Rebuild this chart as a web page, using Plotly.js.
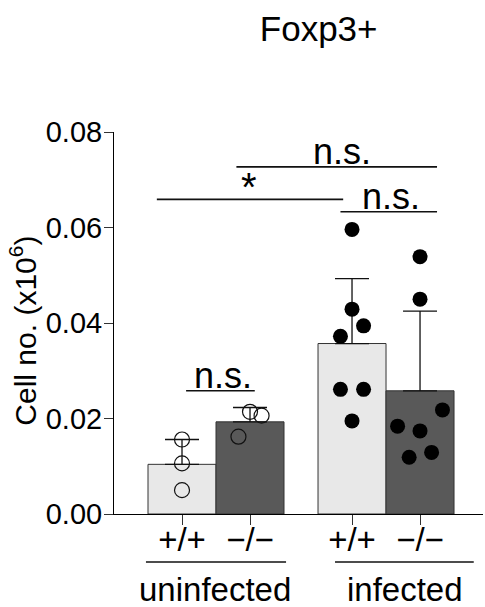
<!DOCTYPE html>
<html>
<head>
<meta charset="utf-8">
<script src="https://cdn.plot.ly/plotly-3.0.1.min.js"></script>
<style>html,body{margin:0;padding:0;background:#fff;}#chart{width:485px;height:607px;}</style>
</head>
<body>
<div id="chart"></div>
<script>
// ---- data ----
const categories = ['+/+', '\u2212/\u2212', '+/+', '\u2212/\u2212'];
const groups = ['uninfected', 'infected'];
const means = [0.0104, 0.0193, 0.0357, 0.0258];
const sdUpper = [0.0052, 0.0030, 0.0136, 0.0167];
const uninfectedWT = [0.0156, 0.0106, 0.0050];
const uninfectedKO = [0.0214, 0.0206, 0.0162];
const infectedWT = [0.0596, 0.0429, 0.0394, 0.0372, 0.0261, 0.0261, 0.0195];
const infectedKO = [0.0539, 0.0450, 0.0218, 0.0184, 0.0174, 0.0129, 0.0119];
const yTicks = [0, 0.02, 0.04, 0.06, 0.08];
const sigLabels = ['n.s.', '*', 'n.s.', 'n.s.'];
const yTitle = 'Cell no. (x10<sup>6</sup>)';
const chartTitle = 'Foxp3+';

// ---- layout helpers (positions / styles) ----
const barPos = [0, 1, 2.5, 3.5];
const barColors = ['#e8e8e8', '#595959', '#e8e8e8', '#595959'];
const jitter = [
  [0, 0, 0],
  [0, 0.17, -0.17],
  [0, 0, 0.17, -0.17, -0.17, 0.17, 0],
  [0, 0, 0.33, -0.33, 0, 0.17, -0.16]
];
const pointSets = [uninfectedWT, uninfectedKO, infectedWT, infectedKO];
const brackets = [
  {x0: 0.80, x1: 3.75, y: 0.0727, tx: 2.35, shift: 15, size: 36},
  {x0: -0.37, x1: 2.37, y: 0.0659, tx: 0.985, shift: 12, size: 40},
  {x0: 2.33, x1: 3.75, y: 0.0633, tx: 3.08, shift: 15, size: 36},
  {x0: 0.06, x1: 1.07, y: 0.0258, tx: 0.60, shift: 15, size: 36}
];
const groupSpans = [
  {x0: -0.53, x1: 1.53, tx: 0.485},
  {x0: 2.25, x1: 4.29, tx: 3.28}
];
const FONT = 'Liberation Sans, Arial, Helvetica, sans-serif';

const traces = [];
traces.push({
  type: 'bar',
  x: barPos,
  y: means,
  width: 1,
  marker: {color: barColors, line: {color: '#333', width: 1}},
  error_y: {type: 'data', symmetric: false, array: sdUpper, arrayminus: means.map(() => 0),
            color: '#111', thickness: 1.3, width: 17},
  hoverinfo: 'skip'
});
pointSets.forEach((vals, i) => {
  const open = i < 2;
  traces.push({
    type: 'scatter', mode: 'markers',
    x: vals.map((v, j) => barPos[i] + jitter[i][j]),
    y: vals,
    marker: open
      ? {symbol: 'circle-open', size: 15, color: '#111', line: {width: 1.2, color: '#111'}}
      : {symbol: 'circle', size: 15, color: '#000'},
    hoverinfo: 'skip'
  });
});

const shapes = [];
const annotations = [];
brackets.forEach((b, i) => {
  shapes.push({type: 'line', xref: 'x', yref: 'y', x0: b.x0, x1: b.x1, y0: b.y, y1: b.y,
               line: {color: '#111', width: 1.6}});
  annotations.push({xref: 'x', yref: 'y', x: b.tx, y: b.y, yshift: b.shift, text: sigLabels[i],
                    showarrow: false, xanchor: 'center', yanchor: 'middle',
                    font: {family: FONT, size: b.size, color: '#000'}});
});
groupSpans.forEach((g, i) => {
  shapes.push({type: 'line', xref: 'x', yref: 'paper', x0: g.x0, x1: g.x1, y0: -0.1257, y1: -0.1257,
               line: {color: '#111', width: 1.4}});
  annotations.push({xref: 'x', yref: 'paper', x: g.tx, y: -0.198, text: groups[i], showarrow: false,
                    xanchor: 'center', yanchor: 'middle', font: {family: FONT, size: 33, color: '#000'}});
});
// y-axis title
annotations.push({xref: 'paper', yref: 'paper', x: 0, xshift: -91, y: 0.48, text: yTitle,
                  textangle: -90, showarrow: false, xanchor: 'center', yanchor: 'middle',
                  font: {family: FONT, size: 30, color: '#000'}});

const layout = {
  width: 485, height: 607,
  margin: {l: 114, r: 2, t: 132, b: 93},
  paper_bgcolor: '#fff', plot_bgcolor: '#fff',
  showlegend: false,
  font: {family: FONT, color: '#000'},
  title: {text: chartTitle, xref: 'container', x: 0.657, xanchor: 'center',
          yref: 'container', y: 1 - 29 / 607, yanchor: 'middle',
          font: {family: FONT, size: 35, color: '#000'}},
  xaxis: {range: [-1, 4.426], showgrid: false, zeroline: false, showline: true,
          linecolor: '#000', linewidth: 1, ticks: 'outside', ticklen: 10, tickcolor: '#333',
          tickwidth: 1, tickvals: barPos, ticktext: categories, ticklabelstandoff: -14,
          tickfont: {family: FONT, size: 33, color: '#000'}, fixedrange: true},
  yaxis: {range: [0, 0.08], showgrid: false, zeroline: false, showline: true,
          linecolor: '#000', linewidth: 1, ticks: 'outside', ticklen: 9, tickcolor: '#333',
          tickwidth: 1, tickvals: yTicks, tickformat: '.2f', ticklabelstandoff: -4,
          tickfont: {family: FONT, size: 29, color: '#000'}, fixedrange: true},
  shapes: shapes,
  annotations: annotations,
  bargap: 0
};

Plotly.newPlot('chart', traces, layout, {displayModeBar: false, staticPlot: true});
</script>
</body>
</html>
